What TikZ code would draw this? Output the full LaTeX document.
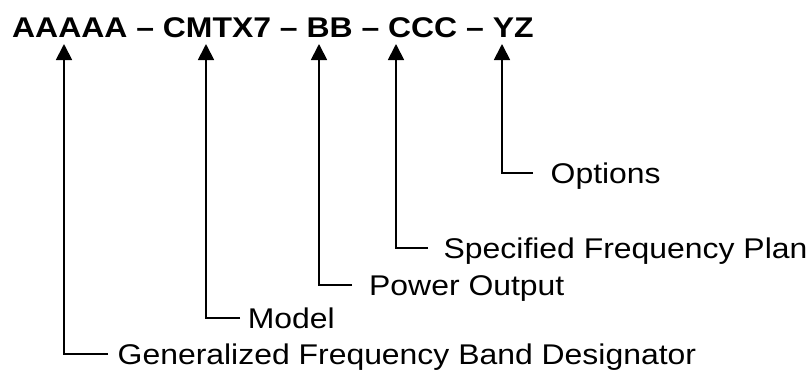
\documentclass[tikz,border=0pt]{standalone}
\usepackage{fontspec}
\setmainfont{Liberation Sans}[FakeStretch=1.12]
\usetikzlibrary{arrows.meta}
\begin{document}
\begin{tikzpicture}[x=1pt, y=-1pt,
    code/.style={anchor=base west, inner sep=0pt, font=\fontsize{28.5}{34}\selectfont\bfseries},
    desc/.style={anchor=base west, inner sep=0pt, font=\fontsize{28.5}{34}\selectfont},
    conn/.style={line width=1.8pt, -{Triangle[width=16pt,length=16pt]}}
]
    \useasboundingbox (0,0) rectangle (811,370);

    \node[code] (partno) at (12, 37) {AAAAA – CMTX7 – BB – CCC – YZ};

    % arrow tips under the part number
    \coordinate (tipA) at (64, 44);
    \coordinate (tipM) at (206, 44);
    \coordinate (tipB) at (319, 44);
    \coordinate (tipC) at (396, 44);
    \coordinate (tipY) at (502, 44);

    \node[desc] (opt)   at (550.5, 183.3) {Options};
    \node[desc] (plan)  at (443.5, 258.3) {Specified Frequency Plan};
    \node[desc] (power) at (369, 295.3) {Power Output};
    \node[desc] (model) at (247.6, 328.3) {Model};
    \node[desc] (band)  at (117.5, 364.3) {Generalized Frequency Band Designator};

    \draw[conn] ([xshift=-17.5pt, yshift=10.3pt]opt.base west) -| (tipY);
    \draw[conn] ([xshift=-15.5pt, yshift=10.3pt]plan.base west) -| (tipC);
    \draw[conn] ([xshift=-17pt, yshift=10.3pt]power.base west) -| (tipB);
    \draw[conn] ([xshift=-7.6pt, yshift=10.3pt]model.base west) -| (tipM);
    \draw[conn] ([xshift=-9.5pt, yshift=10.3pt]band.base west) -| (tipA);
\end{tikzpicture}
\end{document}
